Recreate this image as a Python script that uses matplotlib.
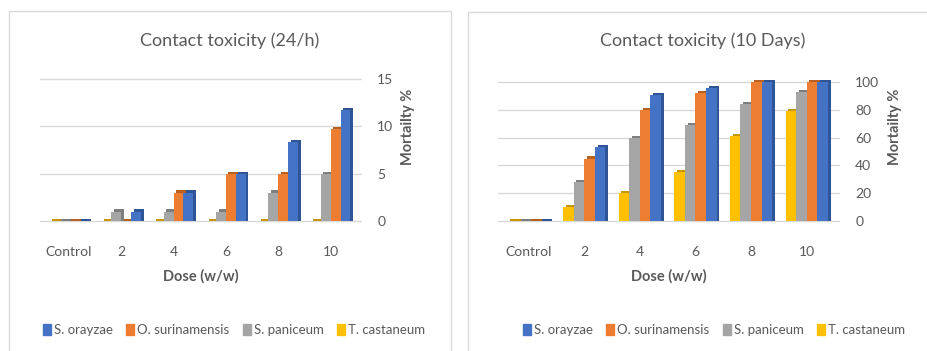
import matplotlib.pyplot as plt
from matplotlib.patches import Patch, Rectangle
import numpy as np

plt.rcParams['font.family'] = ['Lato', 'DejaVu Sans']

doses = ['Control', '2', '4', '6', '8', '10']
species = ['T. castaneum', 'S. paniceum', 'O. surinamensis', 'S. orayzae']
colors = ['#FFC000', '#A5A5A5', '#ED7D31', '#4472C4']
dark = ['#C79600', '#7E7E7E', '#B85F22', '#2F5597']

# mortality % after 24 h, one list per species (same order as `species`)
h24_castaneum = [0, 0, 0, 0, 0, 0]
h24_paniceum = [0, 1, 1, 1, 3, 5]
h24_surinamensis = [0, 0, 3, 5, 5, 9.7]
h24_orayzae = [0, 1, 3, 5, 8.3, 11.7]

# mortality % after 10 days
d10_castaneum = [0, 10, 20, 35, 61, 79]
d10_paniceum = [0, 28, 60, 69, 84, 93]
d10_surinamensis = [0, 45, 80, 92, 100, 100]
d10_orayzae = [0, 53, 91, 96, 100, 100]

grey = '#595959'


def draw_panel(ax, series, ylim, yticks, title, title_x, lab_x):
    x = np.arange(len(doses))
    w = 0.19
    depth_x = 0.05
    depth_y = (ylim[1] - ylim[0]) * 0.014
    for i, vals in enumerate(series):
        pos = x + (i - 1.5) * w
        vals = np.asarray(vals, dtype=float)
        # darker copy behind gives a rough 3D look (also shows the flat zero slabs)
        ax.bar(pos + depth_x, vals + depth_y, w, color=dark[i], zorder=2)
        ax.bar(pos, vals, w, color=colors[i], zorder=3)
    ax.set_xlim(-0.55, 5.6)
    ax.set_ylim(*ylim)
    ax.set_yticks(yticks)
    ax.yaxis.tick_right()
    ax.tick_params(axis='y', length=0, pad=11, labelsize=10, labelcolor=grey)
    ax.tick_params(axis='x', length=0, pad=13, labelsize=10, labelcolor=grey)
    ax.set_xticks(x)
    ax.set_xticklabels(doses)
    ax.grid(axis='y', color='#D9D9D9', lw=1, zorder=0)
    for s in ax.spines.values():
        s.set_visible(False)
    ax.set_xlabel('Dose (w/w)', fontsize=10.5, fontweight='bold', color=grey, labelpad=8)
    fig.text(lab_x, 0.64, 'Mortailty %', rotation=90, ha='center', va='center',
             fontsize=10.5, fontweight='bold', color=grey)
    fig.text(title_x, 0.885, title, ha='center', va='center', fontsize=13, color=grey)


fig = plt.figure(figsize=(9.28, 3.51), dpi=100)

# panel frames
fig.patches.append(Rectangle((9 / 928, -0.01), 442 / 928, 1 - 11 / 351 + 0.01,
                             transform=fig.transFigure, fill=False, ec='#D9D9D9', lw=1))
fig.patches.append(Rectangle((468 / 928, -0.01), 470 / 928, 1 - 12 / 351 + 0.01,
                             transform=fig.transFigure, fill=False, ec='#D9D9D9', lw=1))

ax1 = fig.add_axes([40 / 928, (351 - 228) / 351, 322 / 928, 151 / 351])
draw_panel(ax1, [h24_castaneum, h24_paniceum, h24_surinamensis, h24_orayzae],
           (-0.74, 15.2), [0, 5, 10, 15], 'Contact toxicity (24/h)', 230 / 928, 408 / 928)

ax2 = fig.add_axes([498 / 928, (351 - 228) / 351, 342 / 928, 148 / 351])
draw_panel(ax2, [d10_castaneum, d10_paniceum, d10_surinamensis, d10_orayzae],
           (-5, 101.5), [0, 20, 40, 60, 80, 100], 'Contact toxicity (10 Days)', 703 / 928, 895 / 928)

order = [3, 2, 1, 0]
handles = [Patch(color=colors[i], label=species[i]) for i in order]
for cx in (234 / 928, 714 / 928):
    fig.legend(handles=handles, loc='center', bbox_to_anchor=(cx, 1 - 330 / 351), ncol=4,
               frameon=False, fontsize=9.5, handlelength=0.6, handleheight=0.9,
               handletextpad=0.25, columnspacing=1.0, labelcolor=grey)

fig.savefig('out.png', dpi=100)
